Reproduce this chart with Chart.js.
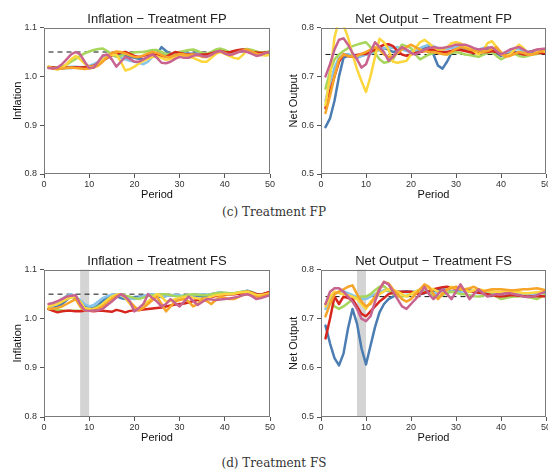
<!DOCTYPE html>
<html>
<head>
<meta charset="utf-8">
<script src="https://cdn.jsdelivr.net/npm/chart.js@4.4.1/dist/chart.umd.min.js"></script>
<style>
  html, body { margin: 0; padding: 0; background: #fff; overflow: hidden; }
  #page { position: relative; width: 548px; height: 471px; overflow: hidden; }
  #page canvas { position: absolute; }
  .caption {
    position: absolute; left: 0; width: 548px; height: 14px; line-height: 14px;
    text-align: center; font-family: 'DejaVu Serif', 'Liberation Serif', serif;
    font-size: 12px; color: #333;
  }
</style>
</head>
<body>
<div id="page">
  <canvas id="infFP" width="280" height="205" style="left:0;top:0"></canvas>
  <canvas id="outFP" width="282" height="205" style="left:276px;top:0"></canvas>
  <div class="caption" style="top:205px">(c) Treatment FP</div>
  <canvas id="infFS" width="280" height="206" style="left:0;top:242px"></canvas>
  <canvas id="outFS" width="282" height="206" style="left:276px;top:242px"></canvas>
  <div class="caption" style="top:456px">(d) Treatment FS</div>
</div>
<script>
// periods shown on every panel
const periods = [
  1, 2, 3, 4, 5, 6, 7, 8, 9, 10, 11, 12, 13, 14, 15, 16, 17, 18, 19, 20,
  21, 22, 23, 24, 25, 26, 27, 28, 29, 30, 31, 32, 33, 34, 35, 36, 37, 38, 39, 40,
  41, 42, 43, 44, 45, 46, 47, 48, 49, 50
];
const xTicks = [0, 10, 20, 30, 40, 50];
const inflationTicks = [0.8, 0.9, 1.0, 1.1];
const outputTicks = [0.5, 0.6, 0.7, 0.8];
const inflationTarget = 1.05;
const outputTarget = 0.745;
const shockPeriods = [8, 10];

// ---- Inflation, treatment FP ----
const infFP_blue = [
  1.018,1.017,1.016,1.016,1.017,1.017,1.018,1.018,1.018,1.019,
  1.022,1.028,1.035,1.040,1.044,1.046,1.045,1.042,1.040,1.038,
  1.036,1.035,1.038,1.043,1.046,1.060,1.052,1.046,1.045,1.047,
  1.048,1.047,1.046,1.047,1.046,1.045,1.047,1.050,1.052,1.048,
  1.047,1.049,1.052,1.051,1.053,1.050,1.048,1.047,1.049,1.050];
const infFP_lightblue = [
  1.020,1.018,1.017,1.018,1.019,1.020,1.020,1.019,1.020,1.022,
  1.025,1.030,1.038,1.043,1.045,1.043,1.038,1.035,1.032,1.030,
  1.028,1.025,1.030,1.040,1.046,1.048,1.045,1.042,1.044,1.046,
  1.047,1.046,1.045,1.047,1.045,1.043,1.046,1.050,1.053,1.049,
  1.046,1.048,1.051,1.052,1.054,1.050,1.047,1.046,1.048,1.050];
const infFP_green = [
  1.020,1.019,1.018,1.020,1.024,1.030,1.036,1.042,1.047,1.051,
  1.054,1.056,1.057,1.052,1.045,1.040,1.042,1.046,1.048,1.049,
  1.050,1.050,1.052,1.054,1.054,1.050,1.046,1.046,1.048,1.050,
  1.052,1.054,1.055,1.052,1.048,1.046,1.050,1.055,1.057,1.054,
  1.050,1.051,1.053,1.055,1.056,1.054,1.051,1.049,1.050,1.051];
const infFP_yellow = [
  1.020,1.016,1.014,1.018,1.025,1.035,1.042,1.035,1.026,1.020,
  1.020,1.026,1.035,1.040,1.044,1.045,1.030,1.012,1.015,1.020,
  1.026,1.032,1.036,1.040,1.041,1.038,1.034,1.036,1.040,1.044,
  1.042,1.040,1.038,1.034,1.030,1.030,1.038,1.046,1.050,1.046,
  1.042,1.038,1.036,1.044,1.054,1.050,1.046,1.044,1.043,1.044];
const infFP_orange = [
  1.018,1.016,1.015,1.016,1.017,1.018,1.017,1.016,1.015,1.016,
  1.018,1.022,1.030,1.040,1.048,1.051,1.050,1.047,1.043,1.040,
  1.040,1.043,1.047,1.050,1.048,1.044,1.040,1.040,1.043,1.046,
  1.045,1.044,1.045,1.043,1.040,1.040,1.044,1.049,1.052,1.048,
  1.044,1.046,1.050,1.053,1.055,1.051,1.046,1.045,1.048,1.050];
const infFP_red = [
  1.019,1.018,1.017,1.017,1.018,1.018,1.019,1.018,1.019,1.020,
  1.022,1.026,1.032,1.038,1.043,1.046,1.049,1.050,1.046,1.042,
  1.040,1.042,1.045,1.046,1.044,1.042,1.040,1.045,1.050,1.048,
  1.046,1.045,1.045,1.044,1.045,1.045,1.047,1.050,1.052,1.050,
  1.049,1.052,1.054,1.055,1.053,1.050,1.049,1.048,1.049,1.050];
const infFP_pink = [
  1.017,1.016,1.018,1.025,1.035,1.045,1.050,1.045,1.030,1.017,
  1.018,1.030,1.043,1.045,1.035,1.020,1.030,1.040,1.036,1.030,
  1.030,1.035,1.040,1.045,1.038,1.028,1.027,1.030,1.036,1.040,
  1.038,1.038,1.042,1.045,1.042,1.040,1.044,1.050,1.052,1.047,
  1.044,1.046,1.050,1.052,1.050,1.046,1.042,1.044,1.048,1.050];

// ---- Net output, treatment FP ----
const outFP_blue = [
  0.596,0.614,0.650,0.700,0.738,0.742,0.740,0.738,0.742,0.745,
  0.748,0.752,0.755,0.758,0.755,0.750,0.752,0.756,0.754,0.750,
  0.752,0.755,0.758,0.760,0.745,0.722,0.716,0.730,0.748,0.755,
  0.758,0.755,0.752,0.750,0.752,0.755,0.755,0.752,0.748,0.742,
  0.745,0.748,0.750,0.748,0.746,0.748,0.750,0.752,0.750,0.748];
const outFP_lightblue = [
  0.650,0.688,0.718,0.738,0.744,0.746,0.742,0.740,0.742,0.745,
  0.746,0.750,0.755,0.758,0.760,0.758,0.760,0.755,0.752,0.750,
  0.752,0.758,0.762,0.765,0.762,0.758,0.755,0.756,0.758,0.760,
  0.762,0.760,0.758,0.756,0.755,0.758,0.760,0.758,0.752,0.745,
  0.748,0.752,0.755,0.756,0.752,0.750,0.752,0.754,0.752,0.750];
const outFP_green = [
  0.675,0.710,0.735,0.745,0.752,0.758,0.762,0.765,0.768,0.770,
  0.760,0.748,0.735,0.728,0.730,0.735,0.752,0.765,0.762,0.758,
  0.745,0.735,0.740,0.745,0.748,0.750,0.746,0.745,0.748,0.750,
  0.748,0.745,0.744,0.742,0.740,0.744,0.748,0.750,0.742,0.735,
  0.740,0.745,0.746,0.742,0.740,0.742,0.745,0.746,0.748,0.750];
const outFP_yellow = [
  0.641,0.700,0.780,0.815,0.805,0.780,0.745,0.715,0.690,0.668,
  0.700,0.740,0.777,0.770,0.755,0.730,0.728,0.730,0.732,0.745,
  0.758,0.770,0.775,0.768,0.760,0.755,0.755,0.760,0.768,0.770,
  0.768,0.762,0.758,0.752,0.745,0.752,0.768,0.772,0.760,0.745,
  0.742,0.745,0.755,0.765,0.758,0.745,0.745,0.750,0.752,0.750];
const outFP_orange = [
  0.625,0.660,0.700,0.735,0.745,0.742,0.740,0.742,0.746,0.750,
  0.755,0.760,0.755,0.745,0.740,0.740,0.748,0.755,0.760,0.765,
  0.760,0.755,0.752,0.750,0.750,0.748,0.746,0.745,0.750,0.756,
  0.760,0.758,0.755,0.753,0.752,0.750,0.752,0.756,0.760,0.750,
  0.740,0.742,0.746,0.750,0.748,0.745,0.745,0.748,0.752,0.755];
const outFP_red = [
  0.635,0.670,0.700,0.730,0.745,0.742,0.740,0.744,0.746,0.746,
  0.750,0.755,0.760,0.765,0.766,0.762,0.752,0.745,0.742,0.745,
  0.748,0.750,0.752,0.754,0.755,0.752,0.750,0.750,0.752,0.755,
  0.754,0.752,0.750,0.748,0.748,0.750,0.750,0.752,0.750,0.745,
  0.744,0.745,0.748,0.748,0.745,0.745,0.746,0.748,0.748,0.747];
const outFP_pink = [
  0.700,0.725,0.755,0.775,0.778,0.765,0.748,0.735,0.718,0.725,
  0.750,0.770,0.760,0.750,0.732,0.740,0.752,0.760,0.755,0.748,
  0.745,0.750,0.755,0.758,0.760,0.758,0.758,0.760,0.762,0.765,
  0.765,0.765,0.762,0.758,0.755,0.756,0.758,0.760,0.752,0.745,
  0.750,0.755,0.758,0.760,0.755,0.750,0.752,0.755,0.756,0.757];

// ---- Inflation, treatment FS ----
const infFS_blue = [
  1.020,1.022,1.025,1.030,1.038,1.045,1.042,1.035,1.028,1.022,
  1.022,1.028,1.036,1.044,1.048,1.046,1.042,1.040,1.042,1.044,
  1.045,1.046,1.048,1.047,1.045,1.044,1.046,1.048,1.047,1.046,
  1.045,1.046,1.047,1.046,1.045,1.047,1.050,1.052,1.053,1.051,
  1.050,1.051,1.053,1.055,1.057,1.054,1.050,1.049,1.051,1.053];
const infFS_lightblue = [
  1.020,1.028,1.034,1.040,1.046,1.050,1.045,1.038,1.030,1.025,
  1.028,1.035,1.042,1.046,1.049,1.050,1.047,1.044,1.041,1.040,
  1.043,1.046,1.049,1.050,1.048,1.045,1.046,1.048,1.049,1.048,
  1.046,1.045,1.047,1.049,1.050,1.049,1.050,1.052,1.054,1.052,
  1.050,1.051,1.053,1.055,1.056,1.053,1.050,1.049,1.051,1.052];
const infFS_green = [
  1.020,1.019,1.018,1.017,1.016,1.016,1.016,1.016,1.016,1.017,
  1.020,1.025,1.030,1.038,1.045,1.048,1.050,1.047,1.045,1.042,
  1.040,1.043,1.046,1.048,1.049,1.050,1.050,1.048,1.046,1.045,
  1.047,1.049,1.050,1.049,1.048,1.048,1.050,1.052,1.053,1.053,
  1.052,1.052,1.054,1.055,1.056,1.054,1.050,1.049,1.051,1.052];
const infFS_yellow = [
  1.025,1.028,1.030,1.035,1.040,1.043,1.045,1.035,1.022,1.020,
  1.020,1.022,1.030,1.038,1.045,1.049,1.050,1.042,1.030,1.022,
  1.020,1.028,1.035,1.043,1.050,1.045,1.035,1.036,1.040,1.042,
  1.044,1.045,1.043,1.041,1.040,1.042,1.045,1.048,1.049,1.050,
  1.050,1.051,1.053,1.054,1.055,1.052,1.048,1.048,1.050,1.052];
const infFS_orange = [
  1.020,1.021,1.022,1.025,1.030,1.035,1.040,1.025,1.017,1.016,
  1.017,1.020,1.025,1.032,1.040,1.046,1.050,1.045,1.035,1.025,
  1.017,1.022,1.030,1.038,1.045,1.030,1.015,1.025,1.035,1.038,
  1.040,1.035,1.025,1.030,1.040,1.036,1.030,1.038,1.045,1.043,
  1.040,1.040,1.044,1.048,1.050,1.047,1.044,1.045,1.048,1.050];
const infFS_red = [
  1.020,1.016,1.013,1.015,1.016,1.016,1.015,1.015,1.016,1.016,
  1.015,1.016,1.016,1.015,1.014,1.018,1.016,1.013,1.016,1.017,
  1.018,1.019,1.020,1.021,1.022,1.023,1.025,1.027,1.029,1.030,
  1.031,1.033,1.036,1.038,1.040,1.042,1.044,1.046,1.048,1.049,
  1.050,1.050,1.051,1.053,1.055,1.053,1.050,1.049,1.052,1.055];
const infFS_pink = [
  1.030,1.032,1.036,1.040,1.045,1.047,1.048,1.030,1.017,1.016,
  1.017,1.017,1.020,1.028,1.035,1.043,1.050,1.045,1.035,1.015,
  1.022,1.030,1.050,1.042,1.035,1.025,1.030,1.040,1.032,1.025,
  1.035,1.045,1.036,1.028,1.034,1.040,1.039,1.038,1.039,1.040,
  1.041,1.043,1.045,1.048,1.050,1.046,1.040,1.042,1.045,1.048];

// ---- Net output, treatment FS ----
const outFS_blue = [
  0.686,0.650,0.620,0.605,0.629,0.680,0.720,0.690,0.640,0.607,
  0.645,0.683,0.713,0.730,0.740,0.745,0.750,0.755,0.756,0.755,
  0.752,0.750,0.752,0.755,0.756,0.758,0.760,0.758,0.755,0.756,
  0.758,0.760,0.758,0.755,0.754,0.755,0.756,0.755,0.752,0.750,
  0.750,0.752,0.754,0.752,0.750,0.748,0.750,0.752,0.754,0.755];
const outFS_lightblue = [
  0.720,0.738,0.750,0.755,0.756,0.752,0.748,0.744,0.740,0.740,
  0.745,0.750,0.755,0.758,0.756,0.755,0.755,0.755,0.754,0.755,
  0.756,0.758,0.756,0.754,0.752,0.754,0.756,0.756,0.755,0.754,
  0.755,0.756,0.755,0.754,0.752,0.753,0.754,0.753,0.752,0.750,
  0.750,0.751,0.752,0.751,0.750,0.749,0.750,0.752,0.753,0.752];
const outFS_green = [
  0.730,0.740,0.725,0.720,0.725,0.732,0.740,0.744,0.745,0.745,
  0.750,0.758,0.765,0.766,0.758,0.750,0.746,0.745,0.747,0.750,
  0.752,0.754,0.755,0.752,0.748,0.745,0.748,0.752,0.755,0.753,
  0.750,0.750,0.748,0.746,0.745,0.747,0.749,0.750,0.745,0.740,
  0.742,0.744,0.745,0.746,0.745,0.744,0.742,0.740,0.745,0.750];
const outFS_yellow = [
  0.725,0.745,0.755,0.752,0.750,0.748,0.745,0.740,0.730,0.720,
  0.735,0.742,0.750,0.756,0.760,0.758,0.755,0.750,0.745,0.750,
  0.755,0.760,0.765,0.762,0.760,0.755,0.750,0.758,0.765,0.762,
  0.760,0.758,0.755,0.758,0.760,0.758,0.756,0.755,0.755,0.755,
  0.756,0.755,0.755,0.754,0.752,0.752,0.753,0.754,0.755,0.755];
const outFS_orange = [
  0.705,0.730,0.750,0.755,0.760,0.765,0.768,0.750,0.735,0.725,
  0.730,0.745,0.760,0.775,0.772,0.760,0.750,0.740,0.735,0.740,
  0.750,0.760,0.770,0.765,0.750,0.740,0.750,0.760,0.762,0.765,
  0.762,0.760,0.762,0.765,0.760,0.755,0.758,0.760,0.760,0.760,
  0.759,0.758,0.758,0.759,0.760,0.760,0.761,0.762,0.760,0.758];
const outFS_red = [
  0.660,0.700,0.745,0.730,0.745,0.742,0.740,0.725,0.710,0.705,
  0.715,0.725,0.735,0.742,0.750,0.753,0.755,0.755,0.755,0.755,
  0.752,0.750,0.753,0.756,0.760,0.762,0.764,0.765,0.763,0.761,
  0.760,0.758,0.756,0.755,0.753,0.752,0.750,0.748,0.746,0.745,
  0.746,0.748,0.748,0.747,0.746,0.745,0.745,0.746,0.746,0.745];
const outFS_pink = [
  0.730,0.755,0.762,0.762,0.755,0.745,0.735,0.720,0.700,0.695,
  0.705,0.735,0.760,0.775,0.770,0.755,0.740,0.725,0.720,0.730,
  0.740,0.750,0.765,0.750,0.740,0.750,0.760,0.750,0.740,0.755,
  0.770,0.755,0.740,0.750,0.760,0.752,0.745,0.748,0.750,0.750,
  0.752,0.752,0.750,0.748,0.745,0.744,0.745,0.748,0.752,0.755];

// group colours, listed top layer first
const groupColors = ['#c8638f', '#f7a52a', '#fcd63c', '#d7261e', '#a6d65c', '#86c3ea', '#4b7db2'];

Chart.defaults.font.family = "'Liberation Sans', Arial, sans-serif";
Chart.defaults.color = '#333';

// box around the plot region plus optional shaded periods
const framePlugin = {
  id: 'frame',
  beforeDatasetsDraw(chart, args, opts) {
    if (!opts.band) return;
    const { ctx, chartArea: a, scales: { x } } = chart;
    const x0 = x.getPixelForValue(opts.band[0]);
    const x1 = x.getPixelForValue(opts.band[1]);
    ctx.save();
    ctx.fillStyle = '#d4d4d4';
    ctx.fillRect(x0, a.top, x1 - x0, a.bottom - a.top);
    ctx.restore();
  },
  afterDraw(chart) {
    const { ctx, chartArea: a } = chart;
    ctx.save();
    ctx.strokeStyle = '#7a7a7a';
    ctx.lineWidth = 1;
    ctx.strokeRect(Math.round(a.left) + 0.5, Math.round(a.top) + 0.5,
      Math.round(a.right - a.left) - 1, Math.round(a.bottom - a.top) - 1);
    ctx.restore();
  }
};

function drawPanel(id, title, yTitle, yTicks, target, series, band, yWidth) {
  const lines = series.map((vals, i) => ({
    data: vals.map((v, k) => ({ x: periods[k], y: v })),
    borderColor: groupColors[i],
    borderWidth: 2.5,
    pointRadius: 0,
    tension: 0,
    borderJoinStyle: 'round',
    borderCapStyle: 'round',
  }));
  lines.push({
    data: [{ x: periods[0], y: target }, { x: periods[periods.length - 1], y: target }],
    borderColor: '#111',
    borderWidth: 1,
    borderDash: [5, 4],
    pointRadius: 0,
  });

  new Chart(document.getElementById(id), {
    type: 'line',
    data: { datasets: lines },
    plugins: [framePlugin],
    options: {
      responsive: false,
      animation: false,
      layout: { padding: { left: 0, right: id.startsWith('out') ? 12 : 10, top: 0, bottom: 0 } },
      plugins: {
        legend: { display: false },
        tooltip: { enabled: false },
        frame: { band: band },
        title: {
          display: true,
          text: title,
          fullSize: false,
          color: '#222',
          font: { size: 13, weight: 'normal' },
          padding: { top: 12, bottom: 0 },
        },
      },
      scales: {
        x: {
          type: 'linear',
          min: xTicks[0],
          max: xTicks[xTicks.length - 1],
          afterBuildTicks: s => { s.ticks = xTicks.map(v => ({ value: v })); },
          afterFit: s => { s.height = 31; },
          ticks: { font: { size: 9 }, color: '#333', padding: 1, maxRotation: 0 },
          grid: { drawOnChartArea: false, tickLength: 4, color: '#555' },
          border: { display: false },
          title: { display: true, text: 'Period', color: '#111', font: { size: 11 }, padding: { top: 0, bottom: 3 } },
        },
        y: {
          min: yTicks[0],
          max: yTicks[yTicks.length - 1],
          afterBuildTicks: s => { s.ticks = yTicks.map(v => ({ value: v })); },
          afterFit: s => { s.width = yWidth; },
          ticks: { font: { size: 9 }, color: '#333', padding: 3, callback: v => v.toFixed(1) },
          grid: { drawOnChartArea: false, tickLength: 4, color: '#555' },
          border: { display: false },
          title: { display: true, text: yTitle, color: '#111', font: { size: 11 }, padding: { top: 11, bottom: 0 } },
        },
      },
    },
  });
}

drawPanel('infFP', 'Inflation \u2212 Treatment FP', 'Inflation', inflationTicks, inflationTarget,
  [infFP_pink, infFP_orange, infFP_yellow, infFP_red, infFP_green, infFP_lightblue, infFP_blue], null, 44);
drawPanel('outFP', 'Net Output \u2212 Treatment FP', 'Net Output', outputTicks, outputTarget,
  [outFP_pink, outFP_orange, outFP_yellow, outFP_red, outFP_green, outFP_lightblue, outFP_blue], null, 45);
drawPanel('infFS', 'Inflation \u2212 Treatment FS', 'Inflation', inflationTicks, inflationTarget,
  [infFS_pink, infFS_orange, infFS_yellow, infFS_red, infFS_green, infFS_lightblue, infFS_blue], shockPeriods, 44);
drawPanel('outFS', 'Net Output \u2212 Treatment FS', 'Net Output', outputTicks, outputTarget,
  [outFS_pink, outFS_orange, outFS_yellow, outFS_red, outFS_green, outFS_lightblue, outFS_blue], shockPeriods, 45);
</script>
</body>
</html>
